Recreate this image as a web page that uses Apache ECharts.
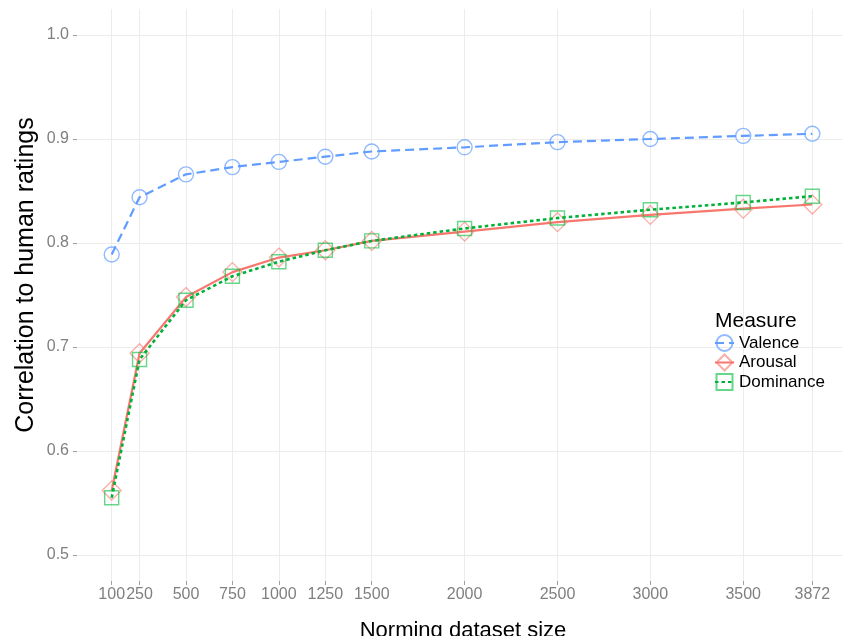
<!DOCTYPE html>
<html><head><meta charset="utf-8">
<script src="https://cdn.jsdelivr.net/npm/echarts@6/dist/echarts.min.js"></script>
<style>html,body{margin:0;padding:0;background:#fff}#c{width:842px;height:636px}</style>
</head><body><div id="c"></div>
<script>
const sizes = [100, 250, 500, 750, 1000, 1250, 1500, 2000, 2500, 3000, 3500, 3872];
const valence = [0.789, 0.844, 0.866, 0.873, 0.878, 0.883, 0.888, 0.892, 0.897, 0.900, 0.903, 0.905];
const arousal = [0.562, 0.694, 0.748, 0.772, 0.786, 0.793, 0.802, 0.811, 0.820, 0.827, 0.833, 0.837];
const dominance = [0.555, 0.688, 0.745, 0.768, 0.782, 0.793, 0.802, 0.814, 0.824, 0.832, 0.839, 0.845];
const xTicks = [100, 250, 500, 750, 1000, 1250, 1500, 2000, 2500, 3000, 3500, 3872];
const yTicks = [0.5, 0.6, 0.7, 0.8, 0.9, 1.0];
const seriesNames = ['Valence', 'Arousal', 'Dominance'];
const legendTitle = 'Measure';
const xTitle = 'Norming dataset size';
const yTitle = 'Correlation to human ratings';

const FONT = '"Liberation Sans", Arial, Helvetica, sans-serif';
function pairs(vals) { return sizes.map((s, i) => [s, vals[i]]); }

const chart = echarts.init(document.getElementById('c'), null, {renderer: 'canvas'});
const noEmph = {disabled: true};
chart.setOption({
  animation: false,
  backgroundColor: '#fff',
  textStyle: {fontFamily: FONT},
  grid: {left: 77, right: 0, top: 9, bottom: 55},
  xAxis: {
    type: 'value', min: -86.8, max: 4031.8,
    axisLine: {show: false, onZero: false},
    axisTick: {show: true, customValues: xTicks, length: 4, lineStyle: {color: '#a0a0a0', width: 1}},
    axisLabel: {customValues: xTicks, margin: 6, fontSize: 16, color: '#7f7f7f', fontFamily: FONT,
      formatter: v => String(v)},
    splitLine: {show: true, lineStyle: {color: '#ececec', width: 1}}
  },
  yAxis: {
    type: 'value', min: 0.475, max: 1.025,
    axisLine: {show: false, onZero: false},
    axisTick: {show: true, customValues: yTicks, length: 4, lineStyle: {color: '#a0a0a0', width: 1}},
    axisLabel: {customValues: yTicks, margin: 8, fontSize: 16, color: '#7f7f7f', fontFamily: FONT,
      formatter: v => v.toFixed(1)},
    splitLine: {show: true, lineStyle: {color: '#ececec', width: 1}}
  },
  legend: {
    left: 714, top: 334, orient: 'vertical', padding: 0,
    itemWidth: 19, itemHeight: 20, itemGap: 1.5,
    textStyle: {fontSize: 17, color: '#000', fontFamily: FONT},
    data: seriesNames
  },
  graphic: [
    {type: 'text', x: 715, y: 321, style: {text: legendTitle, fontSize: 21, fontFamily: FONT, fill: '#000', align: 'left', verticalAlign: 'middle'}},
    {type: 'text', x: 463, y: 631, style: {text: xTitle, fontSize: 22, fontFamily: FONT, fill: '#000', align: 'center', verticalAlign: 'middle'}},
    {type: 'text', x: 26, y: 275, rotation: Math.PI / 2, style: {text: yTitle, fontSize: 25, fontFamily: FONT, fill: '#000', align: 'center', verticalAlign: 'middle'}}
  ],
  series: [
    {
      type: 'line', name: seriesNames[0], data: pairs(valence),
      symbol: 'circle', symbolSize: 15, z: 3,
      lineStyle: {color: '#619CFF', width: 2.2, type: [9, 5]},
      itemStyle: {color: 'rgba(255,255,255,0)', borderColor: 'rgba(97,156,255,0.7)', borderWidth: 1.4},
      emphasis: noEmph
    },
    {
      type: 'line', name: seriesNames[1], data: pairs(arousal),
      symbol: 'diamond', symbolSize: [19, 19], z: 2,
      lineStyle: {color: '#F8766D', width: 2.2, type: 'solid'},
      itemStyle: {color: 'rgba(255,255,255,0)', borderColor: 'rgba(248,118,109,0.6)', borderWidth: 1.3},
      emphasis: noEmph
    },
    {
      type: 'line', name: seriesNames[2], data: pairs(dominance),
      symbol: 'rect', symbolSize: 14, z: 4,
      lineStyle: {color: '#00B038', width: 2.6, type: [3.5, 3]},
      itemStyle: {color: 'rgba(255,255,255,0)', borderColor: 'rgba(0,186,56,0.6)', borderWidth: 1.4},
      emphasis: noEmph
    }
  ]
});
</script>
</body></html>
